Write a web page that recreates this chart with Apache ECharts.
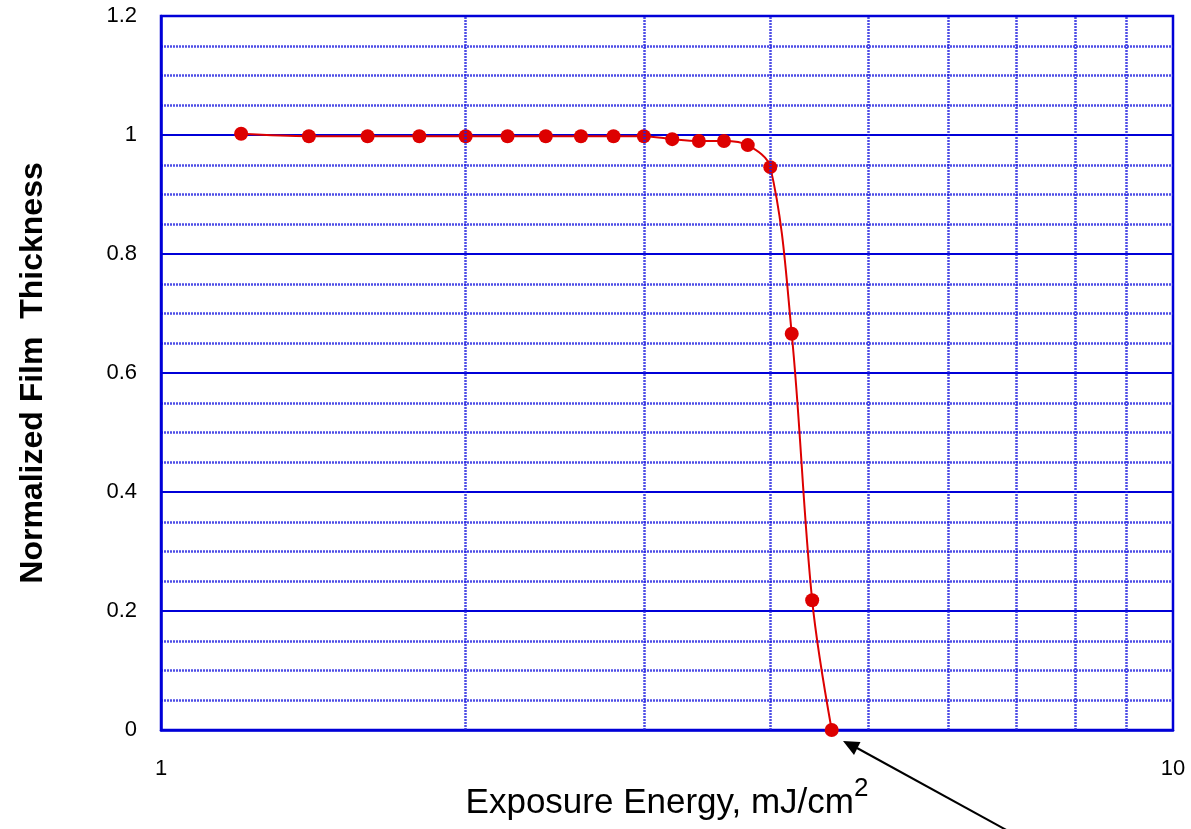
<!DOCTYPE html>
<html>
<head>
<meta charset="utf-8">
<script src="https://cdn.jsdelivr.net/npm/echarts@6/dist/echarts.min.js"></script>
<style>
  html, body { margin: 0; padding: 0; background: #fff; }
  #chart { width: 1191px; height: 829px; }
</style>
</head>
<body>
<div id="chart"></div>
<script>
// exposure energy (mJ/cm2) and normalized film thickness
const energy = [1.2, 1.4, 1.6, 1.8, 2.0, 2.2, 2.4, 2.6, 2.8, 3.0, 3.2, 3.4, 3.6, 3.8, 4.0, 4.2, 4.4, 4.6];
const thickness = [1.002, 0.998, 0.998, 0.998, 0.998, 0.998, 0.998, 0.998, 0.998, 0.998, 0.993, 0.99, 0.99, 0.983, 0.946, 0.666, 0.218, 0.0];
// vertical dotted grid lines of the log axis
const logGridX = [2, 3, 4, 5, 6, 7, 8, 9];

const blue = '#0000d8';
const dotted = { color: '#2020e0', width: 2.5, type: [2, 1], opacity: 0.8 };

const chart = echarts.init(document.getElementById('chart'));

const option = {
  animation: false,
  grid: {
    left: 161, right: 18, top: 16, bottom: 99,
    outerBoundsMode: 'none',
    containLabel: false,
    show: true, borderColor: blue, borderWidth: 2.5
  },
  xAxis: {
    type: 'log',
    logBase: 10,
    min: 1,
    max: 10,
    name: 'Exposure Energy, mJ/cm{sup|2}',
    nameLocation: 'middle',
    nameGap: 46,
    nameMoveOverlap: false,
    nameTextStyle: {
      fontFamily: 'Liberation Sans, Arial',
      fontSize: 35,
      color: '#000',
      rich: {
        sup: { fontSize: 26, fontFamily: 'Liberation Sans, Arial', color: '#000', padding: [0, 0, 28, 0] }
      }
    },
    axisLine: { lineStyle: { color: blue, width: 2.5 } },
    axisTick: { show: false },
    splitLine: { show: false },
    axisLabel: {
      margin: 28,
      fontFamily: 'Liberation Sans, Arial',
      fontSize: 22,
      color: '#000'
    }
  },
  yAxis: {
    type: 'value',
    min: 0,
    max: 1.2,
    interval: 0.2,
    name: 'Normalized Film  Thickness',
    nameLocation: 'middle',
    nameGap: 112,
    nameMoveOverlap: false,
    nameTextStyle: {
      fontFamily: 'Liberation Sans, Arial',
      fontSize: 32,
      fontWeight: 'bold',
      color: '#000'
    },
    axisLine: { show: true, lineStyle: { color: blue, width: 2.5 } },
    axisTick: { show: false },
    axisLabel: {
      margin: 24,
      fontFamily: 'Liberation Sans, Arial',
      fontSize: 22,
      color: '#000'
    },
    splitLine: { show: true, lineStyle: { color: blue, width: 2 } },
    minorTick: { show: false, splitNumber: 4 },
    minorSplitLine: { show: true, lineStyle: dotted }
  },
  series: [
    {
      // carries the vertical log grid lines under the data
      type: 'line',
      data: [],
      z: 1,
      silent: true,
      markLine: {
        silent: true,
        symbol: ['none', 'none'],
        label: { show: false },
        lineStyle: dotted,
        data: logGridX.map(v => ({ xAxis: v }))
      }
    },
    {
      type: 'line',
      z: 3,
      data: energy.map((e, i) => [e, thickness[i]]),
      smooth: 0.35,
      symbol: 'circle',
      symbolSize: 14,
      lineStyle: { color: '#dd0000', width: 2 },
      itemStyle: { color: '#dd0000' }
    }
  ],
  graphic: [
    {
      type: 'line',
      shape: { x1: 857, y1: 748, x2: 1010, y2: 832 },
      style: { stroke: '#000', lineWidth: 2 }
    },
    {
      type: 'polygon',
      shape: { points: [[843, 741], [854, 755], [860.5, 742]] },
      style: { fill: '#000' }
    }
  ]
};

chart.setOption(option);
</script>
</body>
</html>
